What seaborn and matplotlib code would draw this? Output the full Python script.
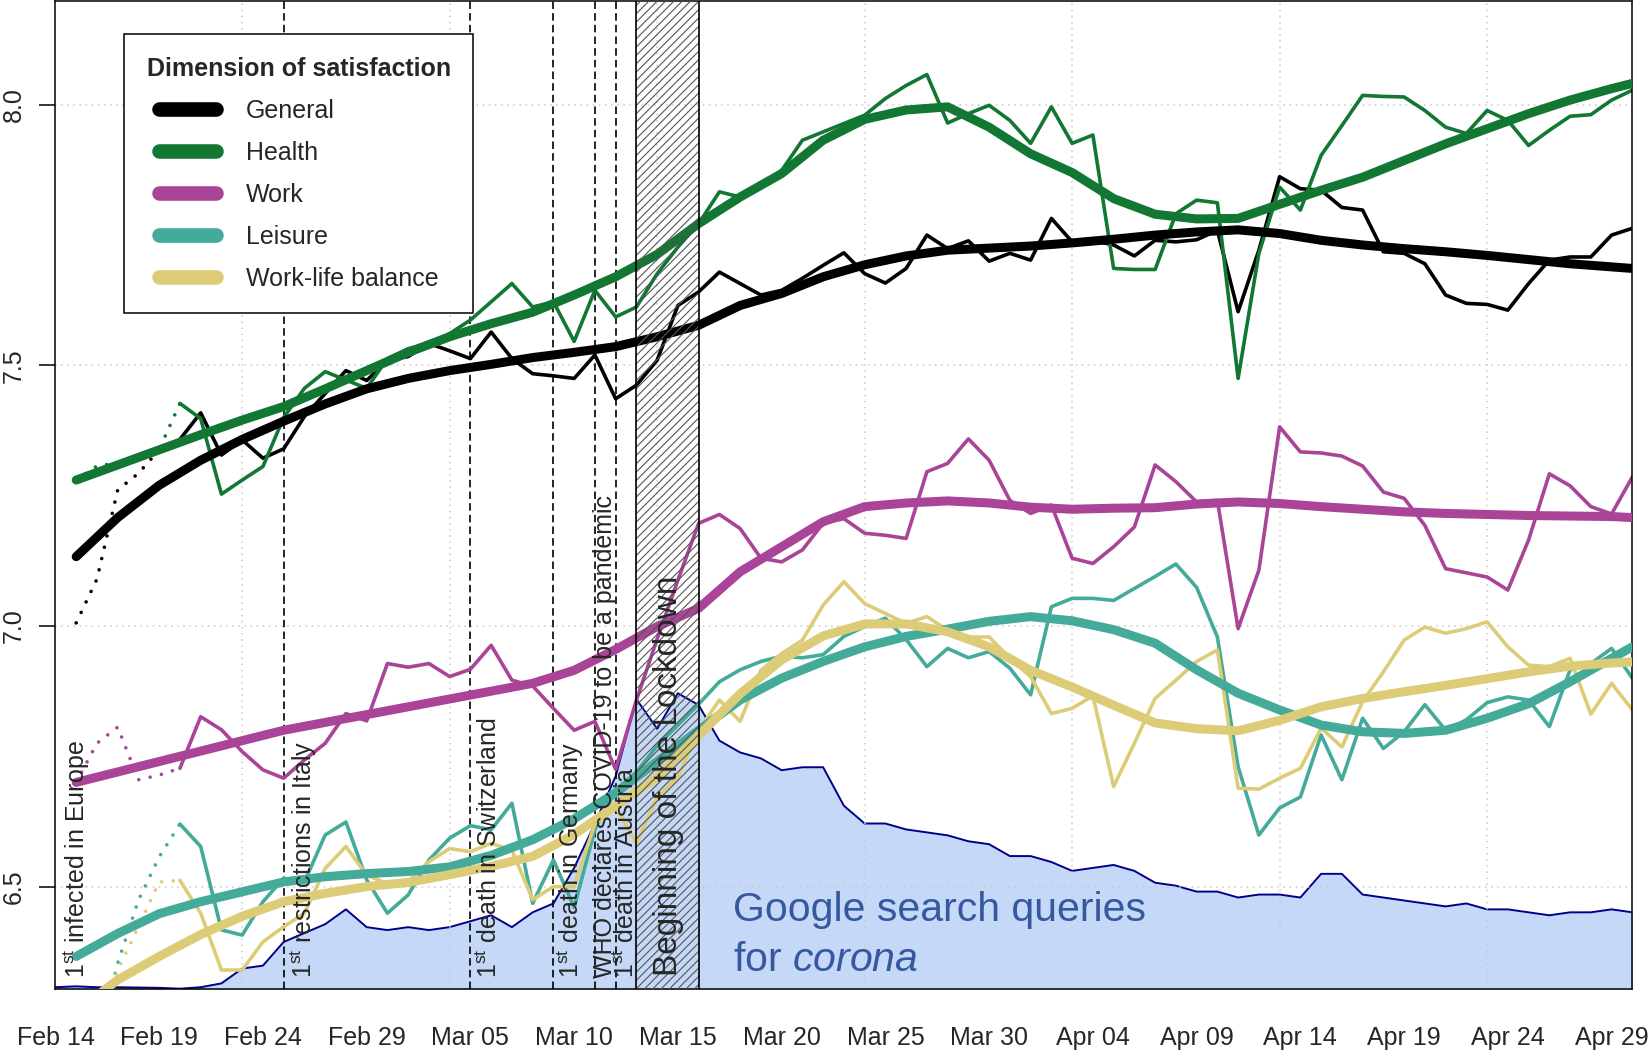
import pandas as pd
import matplotlib
matplotlib.use("Agg")
import matplotlib.pyplot as plt
from matplotlib.lines import Line2D
import seaborn as sns

# -----------------------------
# DATA
# -----------------------------
dates = pd.date_range("2020-02-14", "2020-04-30")   # day 0 .. day 76

# daily means Feb 15 .. Apr 30 (first six days are drawn dotted)
general_raw = [7.006, 7.09, 7.261, 7.293, 7.338, 7.358, 7.409, 7.328, 7.357, 7.322,
               7.340, 7.402, 7.446, 7.490, 7.471, 7.510, 7.517, 7.542, 7.528, 7.513,
               7.564, 7.513, 7.484, 7.480, 7.475, 7.520, 7.436, 7.462, 7.510, 7.615,
               7.641, 7.679, 7.657, 7.635, 7.644, 7.667, 7.692, 7.716, 7.676, 7.658,
               7.686, 7.750, 7.724, 7.739, 7.700, 7.715, 7.702, 7.782, 7.737, 7.740,
               7.731, 7.710, 7.740, 7.737, 7.741, 7.759, 7.603, 7.721, 7.862, 7.839,
               7.836, 7.803, 7.798, 7.718, 7.715, 7.695, 7.635, 7.619, 7.617, 7.606,
               7.657, 7.702, 7.708, 7.708, 7.750, 7.763]
health_raw = [7.28, 7.307, 7.313, 7.326, 7.339, 7.427, 7.398, 7.253, 7.280, 7.306,
              7.400, 7.456, 7.488, 7.472, 7.456, 7.513, 7.532, 7.542, 7.561, 7.587,
              7.622, 7.657, 7.612, 7.622, 7.546, 7.644, 7.593, 7.612, 7.676, 7.727,
              7.772, 7.833, 7.823, 7.846, 7.874, 7.932, 7.948, 7.964, 7.980, 8.012,
              8.037, 8.058, 7.965, 7.983, 7.999, 7.970, 7.926, 7.996, 7.926, 7.942,
              7.686, 7.684, 7.684, 7.791, 7.817, 7.812, 7.475, 7.715, 7.842, 7.798,
              7.903, 7.960, 8.018, 8.016, 8.015, 7.989, 7.957, 7.945, 7.989, 7.970,
              7.922, 7.951, 7.978, 7.981, 8.009, 8.028]
work_raw = [6.70, 6.775, 6.806, 6.705, 6.714, 6.727, 6.826, 6.801, 6.759, 6.724,
            6.708, 6.743, 6.775, 6.832, 6.818, 6.928, 6.921, 6.928, 6.903, 6.917,
            6.963, 6.896, 6.885, 6.842, 6.800, 6.817, 6.725, 6.858, 6.975, 7.088,
            7.197, 7.214, 7.187, 7.130, 7.123, 7.146, 7.197, 7.206, 7.178, 7.174,
            7.168, 7.296, 7.312, 7.359, 7.318, 7.241, 7.216, 7.232, 7.130, 7.120,
            7.152, 7.190, 7.309, 7.277, 7.238, 7.241, 6.995, 7.107, 7.382, 7.334,
            7.332, 7.326, 7.307, 7.257, 7.245, 7.193, 7.110, 7.102, 7.094, 7.069,
            7.165, 7.292, 7.269, 7.229, 7.215, 7.286]
leisure_raw = [6.10, 6.19, 6.353, 6.474, 6.557, 6.620, 6.577, 6.417, 6.407, 6.471,
               6.516, 6.509, 6.599, 6.624, 6.513, 6.449, 6.484, 6.551, 6.593, 6.617,
               6.609, 6.660, 6.468, 6.551, 6.460, 6.610, 6.685, 6.720, 6.770, 6.810,
               6.850, 6.893, 6.916, 6.932, 6.942, 6.939, 6.945, 6.980, 6.999, 7.015,
               6.974, 6.922, 6.957, 6.939, 6.951, 6.919, 6.868, 7.037, 7.053, 7.053,
               7.049, 7.072, 7.095, 7.119, 7.074, 6.979, 6.730, 6.599, 6.651, 6.672,
               6.791, 6.705, 6.823, 6.765, 6.797, 6.849, 6.800, 6.820, 6.853, 6.864,
               6.858, 6.807, 6.916, 6.928, 6.957, 6.900]
wlb_raw = [6.10, 6.20, 6.34, 6.423, 6.509, 6.512, 6.449, 6.340, 6.340, 6.394,
           6.423, 6.449, 6.535, 6.577, 6.522, 6.506, 6.509, 6.548, 6.573, 6.567,
           6.583, 6.570, 6.475, 6.500, 6.500, 6.621, 6.653, 6.583, 6.672, 6.710,
           6.800, 6.858, 6.817, 6.915, 6.947, 6.973, 7.040, 7.085, 7.043, 7.024,
           7.005, 7.018, 6.992, 6.979, 6.979, 6.938, 6.903, 6.832, 6.842, 6.866,
           6.692, 6.775, 6.861, 6.896, 6.932, 6.954, 6.689, 6.687, 6.708, 6.727,
           6.804, 6.768, 6.855, 6.912, 6.973, 6.998, 6.986, 6.995, 7.008, 6.960,
           6.925, 6.922, 6.938, 6.831, 6.890, 6.839]

# smoothed trends, read every second day
smooth_days = list(range(1, 76, 2)) + [76]
general_smooth = [7.133, 7.208, 7.270, 7.318, 7.358, 7.393, 7.426, 7.455, 7.475, 7.490,
                  7.502, 7.515, 7.525, 7.536, 7.555, 7.577, 7.615, 7.638, 7.670, 7.693,
                  7.710, 7.721, 7.725, 7.729, 7.735, 7.742, 7.750, 7.756, 7.760, 7.753,
                  7.740, 7.731, 7.724, 7.718, 7.711, 7.703, 7.695, 7.689, 7.686]
health_smooth = [7.280, 7.309, 7.338, 7.367, 7.395, 7.421, 7.455, 7.490, 7.525, 7.555,
                 7.580, 7.602, 7.635, 7.670, 7.713, 7.772, 7.823, 7.868, 7.932, 7.972,
                 7.990, 7.996, 7.957, 7.906, 7.870, 7.820, 7.790, 7.781, 7.782, 7.809,
                 7.836, 7.861, 7.893, 7.925, 7.954, 7.983, 8.009, 8.031, 8.041]
work_smooth = [6.70, 6.72, 6.74, 6.76, 6.78, 6.80, 6.815, 6.83, 6.845, 6.86,
               6.875, 6.89, 6.915, 6.955, 6.999, 7.034, 7.104, 7.152, 7.200, 7.229,
               7.236, 7.240, 7.236, 7.228, 7.224, 7.226, 7.227, 7.234, 7.238, 7.235,
               7.229, 7.224, 7.219, 7.216, 7.214, 7.212, 7.211, 7.210, 7.208]
leisure_smooth = [6.366, 6.410, 6.448, 6.471, 6.490, 6.509, 6.519, 6.525, 6.529, 6.538,
                  6.560, 6.590, 6.630, 6.680, 6.740, 6.800, 6.858, 6.900, 6.932, 6.960,
                  6.980, 6.994, 7.009, 7.018, 7.010, 6.993, 6.967, 6.916, 6.871, 6.839,
                  6.810, 6.797, 6.794, 6.800, 6.823, 6.851, 6.893, 6.938, 6.960]
wlb_smooth = [6.26, 6.321, 6.366, 6.408, 6.443, 6.471, 6.487, 6.500, 6.508, 6.523,
              6.539, 6.558, 6.600, 6.655, 6.710, 6.790, 6.870, 6.935, 6.981, 7.004,
              7.004, 6.989, 6.960, 6.915, 6.883, 6.848, 6.814, 6.803, 6.799, 6.819,
              6.845, 6.861, 6.874, 6.886, 6.899, 6.912, 6.923, 6.929, 6.931]

# google search interest for "corona" (index, max = 100), day 0 .. day 76
google = [0.7, 1.0, 0.7, 0.7, 0.6, 0.5, 0.2, 0.7, 2, 7,
          8, 16, 19, 22, 27, 21, 20, 21, 20, 21,
          23, 25, 21, 26, 29, 41, 56, 72, 98, 88,
          100, 96, 84, 80, 78, 74, 75, 75, 62, 56,
          56, 54, 53, 52, 50, 49, 45, 45, 43, 40,
          41, 42, 40, 36, 35, 33, 33, 31, 32, 32,
          31, 39, 39, 32, 31, 30, 29, 28, 29, 27,
          27, 26, 25, 26, 26, 27, 26]

names = ["General", "Health", "Work", "Leisure", "Work-life balance"]
colors = ["#000000", "#117733", "#AA4499", "#44AA99", "#DDCC77"]
raws = [general_raw, health_raw, work_raw, leisure_raw, wlb_raw]
smooths = [general_smooth, health_smooth, work_smooth, leisure_smooth, wlb_smooth]

event_dates = ["2020-02-25", "2020-03-05", "2020-03-09", "2020-03-11", "2020-03-12"]
lockdown = ("2020-03-13", "2020-03-16")

# -----------------------------
# STYLE
# -----------------------------
sns.set_style("white")
plt.rcParams["font.family"] = ["Liberation Sans", "DejaVu Sans"]
plt.rcParams["mathtext.fontset"] = "custom"
plt.rcParams["mathtext.rm"] = "Liberation Sans"
plt.rcParams["mathtext.it"] = "Liberation Sans:italic"
plt.rcParams["hatch.linewidth"] = 0.8

fig = plt.figure(figsize=(16.5, 10.51), dpi=100)
ax = fig.add_axes([0.0336, 0.0587, 0.9557, 0.9403])
axg = ax.twinx()
ax.set_zorder(axg.get_zorder() + 1)
ax.patch.set_visible(False)


def day(n):
    return dates[0] + pd.Timedelta(days=n)


# -----------------------------
# GOOGLE AREA (own scale, behind)
# -----------------------------
axg.fill_between(dates, google, color="#c5d8f7", lw=0)
sns.lineplot(x=dates, y=google, ax=axg, color="#00008b", lw=1.4)
axg.set_ylim(0, 333.8)
axg.set_yticks([])
axg.set_ylabel("")
for s in axg.spines.values():
    s.set_visible(False)

# -----------------------------
# GRID + EVENTS
# -----------------------------
for y in [6.5, 7.0, 7.5, 8.0]:
    ax.axhline(y, color="#c8c8c8", lw=1.1, ls=(0, (1, 3)), zorder=0.5)
for d in dates[9::10]:
    ax.axvline(d, color="#c8c8c8", lw=1.1, ls=(0, (1, 3)), zorder=0.5)
for d in event_dates:
    ax.axvline(pd.Timestamp(d), color="black", lw=1.2, ls=(0, (4.5, 2.5)), zorder=1)

# -----------------------------
# SATISFACTION LINES
# -----------------------------
for raw, sm, col in zip(raws, smooths, colors):
    x_raw = dates[1:]
    sns.lineplot(x=x_raw[:6], y=raw[:6], ax=ax, color=col, lw=2.6,
                 linestyle=(0, (0.01, 3.2)), dash_capstyle="round", zorder=2)
    sns.lineplot(x=x_raw[5:], y=raw[5:], ax=ax, color=col, lw=2.6, zorder=2)
    sns.lineplot(x=dates[smooth_days], y=sm, ax=ax, color=col, lw=6.5,
                 solid_capstyle="round", zorder=3)

# lockdown band
ax.axvspan(pd.Timestamp(lockdown[0]), pd.Timestamp(lockdown[1]), facecolor="none",
           edgecolor="#555555", hatch="////", lw=0, zorder=4)
for d in lockdown:
    ax.axvline(pd.Timestamp(d), color="black", lw=1.2, zorder=4.5)

# -----------------------------
# TEXT
# -----------------------------
st = r"1$^{\rm st}$ "
labels = [(1.0, st + "infected in Europe"),
          (11.95, st + "restrictions in Italy"),
          (20.9, st + "death in Switzerland"),
          (24.85, st + "death in Germany"),
          (26.5, "WHO declares COVID-19 to be a pandemic"),
          (27.5, st + "death in Austria")]
for n, s in labels:
    ax.text(day(n), 6.325, s, rotation=90, ha="center", va="bottom", fontsize=18, zorder=5)
ax.text(day(29.55), 6.328, "Beginning of the Lockdown", rotation=90, ha="center",
        va="bottom", fontsize=24, zorder=5)
ax.text(day(32.66), 6.455, "Google search queries", ha="left", va="center",
        fontsize=29.5, color="#35589f", zorder=5)
ax.text(day(32.66), 6.359, r"for $\mathit{corona}$", ha="left", va="center",
        fontsize=29.5, color="#35589f", zorder=5)

# -----------------------------
# AXES
# -----------------------------
ax.set_xlim(dates[0], dates[-1])
ax.set_ylim(6.303, 8.199)
ax.set_yticks([6.5, 7.0, 7.5, 8.0])
ax.set_yticklabels(["6.5", "7.0", "7.5", "8.0"], rotation=90, va="center")
ax.set_xticks(dates)
ax.set_xticklabels([d.strftime("%b %d") if i % 5 == 0 else "" for i, d in enumerate(dates)])
ax.tick_params(axis="both", length=11.5, width=1.1, color="black", labelsize=18,
               direction="out")
ax.tick_params(axis="x", pad=15)
ax.tick_params(axis="y", pad=10)
ax.set_xlabel("")
ax.set_ylabel("")
for s in ax.spines.values():
    s.set_visible(True)
    s.set_color("black")
    s.set_linewidth(1.1)

handles = [Line2D([], [], color=c, lw=10.5, solid_capstyle="round") for c in colors]
leg = ax.legend(handles, names, title="Dimension of satisfaction", loc="upper left",
                bbox_to_anchor=(0.0435, 0.9666), borderaxespad=0, fontsize=18,
                title_fontproperties={"weight": "bold", "size": 18},
                handlelength=2.3, handletextpad=1.17, labelspacing=0.72,
                borderpad=0.9, fancybox=False, framealpha=1, edgecolor="black")
leg.get_frame().set_linewidth(1.1)
leg.set_zorder(6)

fig.savefig("out.png", dpi=100)
